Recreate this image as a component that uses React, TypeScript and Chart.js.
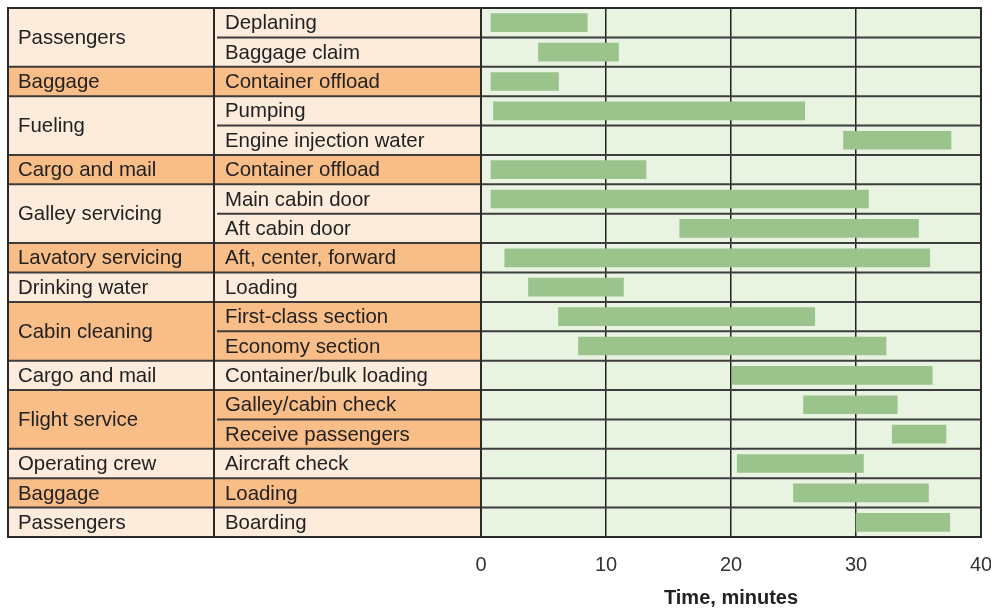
import React, { useEffect, useRef } from "react";
import { Chart, registerables } from "chart.js";

Chart.register(...registerables);

// ---- data ----
const groupNames = [
  "Passengers",
  "Baggage",
  "Fueling",
  "Cargo and mail",
  "Galley servicing",
  "Lavatory servicing",
  "Drinking water",
  "Cabin cleaning",
  "Cargo and mail",
  "Flight service",
  "Operating crew",
  "Baggage",
  "Passengers",
];
const groupSpans = [2, 1, 2, 1, 2, 1, 1, 2, 1, 2, 1, 1, 1];

const tasks = [
  "Deplaning",
  "Baggage claim",
  "Container offload",
  "Pumping",
  "Engine injection water",
  "Container offload",
  "Main cabin door",
  "Aft cabin door",
  "Aft, center, forward",
  "Loading",
  "First-class section",
  "Economy section",
  "Container/bulk loading",
  "Galley/cabin check",
  "Receive passengers",
  "Aircraft check",
  "Loading",
  "Boarding",
];

const startTimes = [0.8, 4.6, 0.8, 1.0, 29.0, 0.8, 0.8, 15.9, 1.9, 3.8, 6.2, 7.8, 20.1, 25.8, 32.9, 20.5, 25.0, 30.0];
const endTimes = [8.5, 11.0, 6.2, 25.9, 37.6, 13.2, 31.0, 35.0, 35.9, 11.4, 26.7, 32.4, 36.1, 33.3, 37.2, 30.6, 35.8, 37.5];

const xMin = 0;
const xMax = 40;
const xStep = 10;
const xTitle = "Time, minutes";

// ---- style ----
const FONT = '"Liberation Sans", Arial, Helvetica, sans-serif';
const PLOT_BG = "#E8F3E1";
const BAR = "#9BC48D";
const PEACH = "#FDEBDC";
const ORANGE = "#F9BD87";
const TEXT = "#222222";
const LINE = "#3c3c3c";
const TABLE_LEFT = 8;
const COL_DIV = 214;

function rowEdges(chart: any): number[] {
  const y = chart.scales.y;
  const n = tasks.length;
  const p0 = y.getPixelForValue(0);
  const p1 = y.getPixelForValue(1);
  const half = (p1 - p0) / 2;
  const edges: number[] = [p0 - half];
  for (let i = 1; i < n; i++) {
    edges.push((y.getPixelForValue(i - 1) + y.getPixelForValue(i)) / 2);
  }
  edges.push(y.getPixelForValue(n - 1) + half);
  return edges;
}

const tablePlugin = {
  id: "turnTable",
  beforeDraw(chart: any) {
    const { ctx, chartArea: ca } = chart;
    const edges = rowEdges(chart);
    ctx.save();
    ctx.fillStyle = PLOT_BG;
    ctx.fillRect(ca.left, edges[0], ca.right - ca.left, edges[edges.length - 1] - edges[0]);
    let r = 0;
    groupSpans.forEach((span, g) => {
      const top = edges[r];
      const bot = edges[r + span];
      ctx.fillStyle = g % 2 === 1 ? ORANGE : PEACH;
      ctx.fillRect(TABLE_LEFT, top, ca.left - TABLE_LEFT, bot - top);
      r += span;
    });
    ctx.restore();
  },
  afterDraw(chart: any) {
    const { ctx, chartArea: ca } = chart;
    const edges = rowEdges(chart);
    const n = tasks.length;
    const groupBounds = new Set<number>();
    let acc = 0;
    groupSpans.forEach((s) => {
      acc += s;
      groupBounds.add(acc);
    });
    ctx.save();
    ctx.strokeStyle = LINE;
    ctx.lineWidth = 2;
    const hline = (x1: number, x2: number, yy: number) => {
      ctx.beginPath();
      ctx.moveTo(x1, yy);
      ctx.lineTo(x2, yy);
      ctx.stroke();
    };
    for (let i = 1; i < n; i++) {
      if (groupBounds.has(i)) {
        hline(TABLE_LEFT, ca.right, edges[i]);
      } else {
        hline(COL_DIV + 3, ca.right, edges[i]);
      }
    }
    ctx.strokeStyle = "#2a2a2a";
    hline(TABLE_LEFT - 1, ca.right + 1, edges[0]);
    hline(TABLE_LEFT - 1, ca.right + 1, edges[n]);
    const vline = (xx: number) => {
      ctx.beginPath();
      ctx.moveTo(xx, edges[0]);
      ctx.lineTo(xx, edges[n]);
      ctx.stroke();
    };
    vline(TABLE_LEFT);
    vline(COL_DIV);
    vline(ca.left);
    vline(ca.right);

    // text
    ctx.fillStyle = TEXT;
    ctx.font = "20.4px " + FONT;
    ctx.textBaseline = "middle";
    ctx.textAlign = "left";
    let r = 0;
    groupSpans.forEach((span, g) => {
      const cy = (edges[r] + edges[r + span]) / 2 + 1;
      ctx.fillText(groupNames[g], TABLE_LEFT + 10, cy);
      r += span;
    });
    tasks.forEach((t, i) => {
      const cy = (edges[i] + edges[i + 1]) / 2 + 1;
      ctx.fillText(t, COL_DIV + 11, cy);
    });
    ctx.restore();
  },
};

export default function App() {
  const ref = useRef<HTMLCanvasElement | null>(null);

  useEffect(() => {
    if (!ref.current) return;
    Chart.defaults.font.family = FONT;
    const chart = new Chart(ref.current, {
      type: "bar",
      data: {
        labels: tasks,
        datasets: [
          {
            label: "Duration",
            data: tasks.map((_, i) => [startTimes[i], endTimes[i]]) as any,
            backgroundColor: BAR,
            borderWidth: 0,
            barThickness: 18,
          },
        ],
      },
      options: {
        indexAxis: "y",
        responsive: false,
        animation: false,
        events: [],
        layout: { padding: { left: 481, right: 10, top: 8, bottom: 0 } },
        plugins: {
          legend: { display: false },
          tooltip: { enabled: false },
        },
        scales: {
          x: {
            type: "linear",
            min: xMin,
            max: xMax,
            z: 1,
            ticks: {
              stepSize: xStep,
              padding: 16,
              color: "#333333",
              font: { size: 20, family: FONT },
              maxRotation: 0,
            },
            grid: {
              color: "#222222",
              lineWidth: 1.5,
              drawTicks: false,
            },
            border: { display: false },
            title: {
              display: true,
              text: xTitle,
              color: TEXT,
              font: { size: 20, weight: "bold", family: FONT, lineHeight: 1 },
              padding: { top: 0, bottom: 0 },
            },
            afterFit: (s: any) => {
              s.height = 71;
              s.paddingLeft = 0;
              s.paddingRight = 0;
            },
          },
          y: {
            type: "category",
            display: false,
            offset: true,
          },
        },
      },
      plugins: [tablePlugin],
    });
    return () => chart.destroy();
  }, []);

  return (
    <div style={{ position: "fixed", left: 0, top: 0, width: 991, height: 608, background: "#fff" }}>
      <canvas ref={ref} width={991} height={608} style={{ display: "block", width: 991, height: 608 }} />
    </div>
  );
}
